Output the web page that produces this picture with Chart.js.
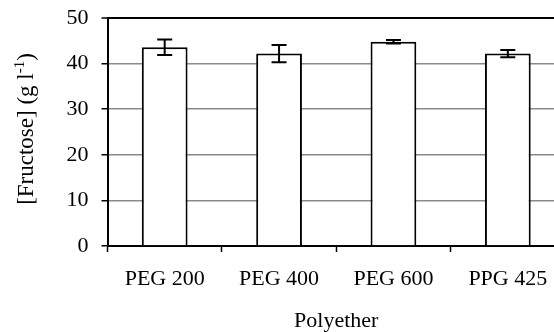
<!DOCTYPE html>
<html>
<head>
<meta charset="utf-8">
<script src="https://cdn.jsdelivr.net/npm/chart.js@4/dist/chart.umd.min.js"></script>
<style>
html, body { margin: 0; padding: 0; background: #fff; overflow: hidden; }
#wrap { width: 570px; height: 332px; }
</style>
</head>
<body>
<div id="wrap"><canvas id="myChart"></canvas></div>
<script>
const polyethers = ['PEG 200', 'PEG 400', 'PEG 600', 'PPG 425'];
const fructose = [43.6, 42.2, 44.8, 42.2];
const fructoseErr = [1.7, 1.9, 0.4, 0.8];
const yTicks = [0, 10, 20, 30, 40, 50];

const serif = "'Liberation Serif', 'Times New Roman', serif";

// error bars, drawn from the y scale
const errorBars = {
  id: 'errorBars',
  afterDatasetsDraw(chart) {
    const ctx = chart.ctx;
    const y = chart.scales.y;
    const meta = chart.getDatasetMeta(0);
    ctx.save();
    ctx.strokeStyle = '#000';
    ctx.lineWidth = 2;
    meta.data.forEach((bar, i) => {
      const top = y.getPixelForValue(fructose[i] + fructoseErr[i]);
      const bot = y.getPixelForValue(fructose[i] - fructoseErr[i]);
      ctx.beginPath();
      ctx.moveTo(bar.x, top); ctx.lineTo(bar.x, bot);
      ctx.moveTo(bar.x - 7.5, top); ctx.lineTo(bar.x + 7.5, top);
      ctx.moveTo(bar.x - 7.5, bot); ctx.lineTo(bar.x + 7.5, bot);
      ctx.stroke();
    });
    ctx.restore();
  }
};

// y title with a raised "-1"
const yTitle = {
  id: 'yTitle',
  afterDraw(chart) {
    const ctx = chart.ctx;
    const area = chart.chartArea;
    const main = '[Fructose] (g l';
    const sup = '-1';
    const end = ')';
    ctx.save();
    ctx.fillStyle = '#000';
    ctx.textBaseline = 'middle';
    ctx.font = '23px ' + serif;
    const w1 = ctx.measureText(main).width;
    const w3 = ctx.measureText(end).width;
    ctx.font = '15px ' + serif;
    const w2 = ctx.measureText(sup).width;
    const total = w1 + w2 + w3;
    ctx.translate(27, (area.top + area.bottom) / 2 - 3);
    ctx.rotate(-Math.PI / 2);
    let x = -total / 2;
    ctx.font = '23px ' + serif;
    ctx.fillText(main, x, 0);
    x += w1;
    ctx.font = '15px ' + serif;
    ctx.fillText(sup, x, -7);
    x += w2;
    ctx.font = '23px ' + serif;
    ctx.fillText(end, x, 0);
    ctx.restore();
  }
};

new Chart(document.getElementById('myChart'), {
  type: 'bar',
  data: {
    labels: polyethers,
    datasets: [{
      data: fructose,
      backgroundColor: '#fff',
      borderColor: '#000',
      borderWidth: 2,
      barPercentage: 0.4,
      categoryPercentage: 1
    }]
  },
  options: {
    responsive: true,
    maintainAspectRatio: false,
    animation: false,
    layout: { padding: { top: 18, right: 5, left: 0, bottom: 0 } },
    plugins: { legend: { display: false }, tooltip: { enabled: false } },
    scales: {
      x: {
        afterFit(scale) { scale.height = 86; },
        grid: { drawOnChartArea: false, drawTicks: true, tickLength: 6, tickColor: '#000', tickWidth: 1.5, offset: true },
        border: { color: '#000', width: 2 },
        ticks: { color: '#000', padding: 14, font: { family: serif, size: 22 } },
        title: { display: true, text: 'Polyether', color: '#000', padding: { top: 0, bottom: -2 }, font: { family: serif, size: 22 } }
      },
      y: {
        min: 0,
        max: 50,
        afterFit(scale) {
          scale.width = 107.5;
          scale.paddingTop = 0;
          scale.paddingBottom = 0;
        },
        afterBuildTicks(scale) { scale.ticks = yTicks.map(v => ({ value: v })); },
        grid: {
          color: c => (c.tick && (c.tick.value === 50 || c.tick.value === 0)) ? '#000' : '#8a8a8a',
          lineWidth: c => (c.tick && c.tick.value === 50) ? 2 : 1.5,
          tickColor: '#000',
          tickLength: 6,
          tickWidth: 1.5
        },
        border: { color: '#000', width: 2 },
        ticks: { color: '#000', padding: 13, font: { family: serif, size: 22 } }
      }
    }
  },
  plugins: [errorBars, yTitle]
});
</script>
</body>
</html>
